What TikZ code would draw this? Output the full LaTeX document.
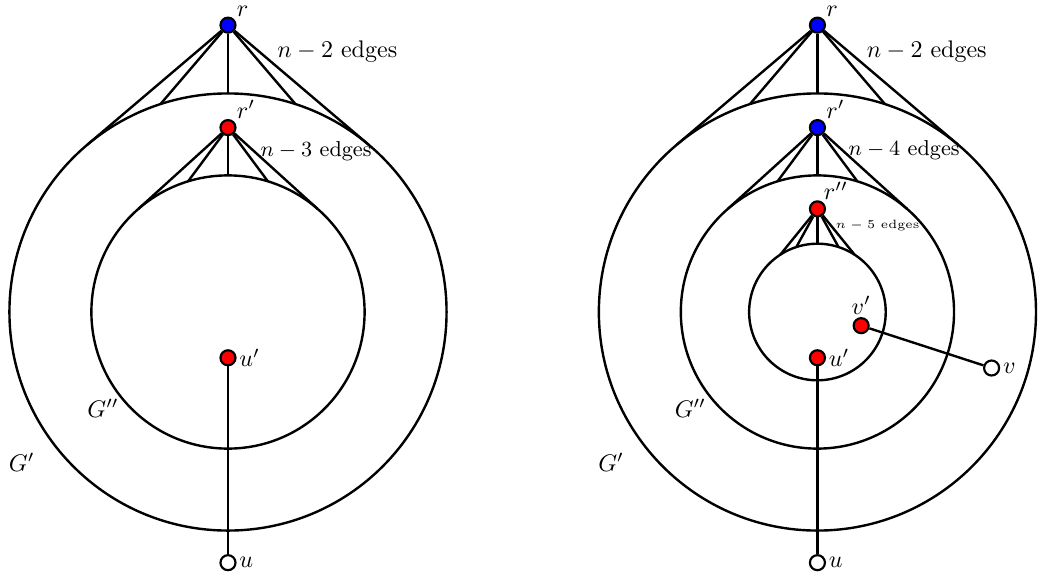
\documentclass[tikz,border=0pt]{standalone}
\usepackage{amsmath,amssymb}
\usepackage{tikz}
\usetikzlibrary{positioning, calc}
\tikzset{
  rootdot/.style  = {draw=black, fill=blue},
  innerdot/.style = {draw=black, fill=red},
  leafdot/.style  = {draw=black, fill=white},
}

\begin{document}
\begin{tikzpicture}[
            vtx/.style  ={circle, line width=0.9pt, inner sep=0pt, minimum size=0.22cm},
            edge/.style ={line width=1pt, draw=black},
            ring/.style ={line width=1pt, draw=black},
            vlbl/.style ={inner sep=1pt, label distance=0pt},
            x=1cm, y=1cm
        ]
        \useasboundingbox (-3.338,-3.924) rectangle (11.918,4.568);

        %% --- Left: G' with G'' inside --------------------------------------
        \coordinate (cA) at (0,0);
        \draw[ring] (cA) circle (3.2);
        \draw[ring] (cA) circle (2.0);

        \node[vtx, rootdot]  (rA)  at (0,4.2)   {};
        \node[vtx, innerdot] (r1A) at (0,2.7)   {};
        \node[vtx, innerdot] (u1A) at (0,-0.67) {};
        \node[vtx, leafdot]  (uA)  at (0,-3.67) {};

        \foreach \a in {50,72,90,108,130}
            \draw[edge] (rA) -- ($(cA)+(\a:3.2)$);
        \foreach \a in {49,73,90,107,131}
            \draw[edge] (r1A) -- ($(cA)+(\a:2.0)$);
        \draw[edge] (u1A) -- (uA);

        \node[vlbl, anchor=south west] at (rA.north east)  {$r$};
        \node[vlbl, anchor=south west] at (r1A.north east) {$r'$};
        \node[vlbl, anchor=west] at (u1A.east) {$u'$};
        \node[vlbl, anchor=west] at (uA.east)  {$u$};

        \node (eA2) at (1.60,3.81) {$n-2$ edges};
        \node[font=\small] (eA3) at (1.29,2.36) {$n-3$ edges};
        \node (gA1) at (-3.02,-2.20) {$G'$};
        \node (gA2) at (-1.83,-1.41) {$G''$};

        %% --- Right: G' with G'' and a third ring ---------------------------
        \coordinate (cB) at (8.63,0);
        \draw[ring] (cB) circle (3.2);
        \draw[ring] (cB) circle (2.0);
        \draw[ring] (cB) circle (1.0);

        \node[vtx, rootdot]  (rB)  at ($(cB)+(0,4.2)$)   {};
        \node[vtx, rootdot]  (r1B) at ($(cB)+(0,2.7)$)   {};
        \node[vtx, innerdot] (r2B) at ($(cB)+(0,1.51)$)  {};
        \node[vtx, innerdot] (v1B) at ($(cB)+(0.64,-0.2)$) {};
        \node[vtx, leafdot]  (vB)  at ($(cB)+(2.55,-0.82)$) {};
        \node[vtx, innerdot] (u1B) at ($(cB)+(0,-0.67)$) {};
        \node[vtx, leafdot]  (uB)  at ($(cB)+(0,-3.67)$) {};

        \foreach \a in {50,72,90,108,130}
            \draw[edge] (rB) -- ($(cB)+(\a:3.2)$);
        \foreach \a in {49,73,90,107,131}
            \draw[edge] (r1B) -- ($(cB)+(\a:2.0)$);
        \foreach \a in {57,72,90,108,123}
            \draw[edge] (r2B) -- ($(cB)+(\a:1.0)$);
        \draw[edge] (u1B) -- (uB);
        \draw[edge] (v1B) -- (vB);

        \node[vlbl, anchor=south west] at (rB.north east)  {$r$};
        \node[vlbl, anchor=south west] at (r1B.north east) {$r'$};
        \node[vlbl, anchor=south west] at ([xshift=-1pt]r2B.north east) {$r''$};
        \node[vlbl, anchor=south] at (v1B.north) {$v'$};
        \node[vlbl, anchor=west] at (vB.east)  {$v$};
        \node[vlbl, anchor=west] at (u1B.east) {$u'$};
        \node[vlbl, anchor=west] at (uB.east)  {$u$};

        \node (eB2) at ($(cB)+(1.60,3.81)$) {$n-2$ edges};
        \node[font=\small] (eB4) at ($(cB)+(1.27,2.37)$) {$n-4$ edges};
        \node[font=\tiny] (eB5) at ($(cB)+(0.88,1.26)$) {$n-5$ edges};
        \node (gB1) at ($(cB)+(-3.02,-2.20)$) {$G'$};
        \node (gB2) at ($(cB)+(-1.86,-1.41)$) {$G''$};

    \end{tikzpicture}
\end{document}
